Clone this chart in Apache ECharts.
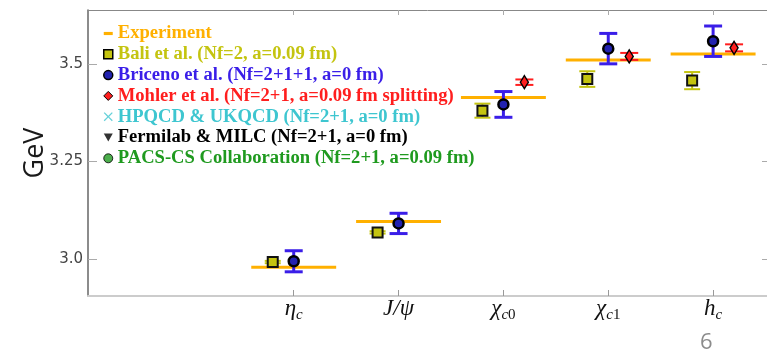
<!DOCTYPE html>
<html>
<head>
<meta charset="utf-8">
<script src="https://cdn.jsdelivr.net/npm/echarts@6/dist/echarts.min.js"></script>
<style>
  html, body { margin: 0; padding: 0; background: #fff; }
  #chart { width: 767px; height: 350px; }
</style>
</head>
<body>
<div id="chart"></div>
<script>
// Charmonium spectrum: experiment vs. lattice QCD results (GeV)
const categories = ['ηc', 'J/ψ', 'χc0', 'χc1', 'hc'];
const catSymbol = ['η', 'J/ψ', 'χ', 'χ', 'h'];
const catSubLetter = ['c', '', 'c', 'c', 'c'];
const catSubDigit = ['', '', '0', '1', ''];
const catPos = [1, 2, 3, 4, 5];

const experiment = [2.979, 3.096, 3.414, 3.510, 3.525];

const baliMass = [2.992, 3.068, 3.380, 3.461, 3.457];
const baliErr = [0.003, 0.003, 0.018, 0.020, 0.022];

const bricenoMass = [2.994, 3.091, 3.396, 3.539, 3.558];
const bricenoErr = [0.027, 0.026, 0.033, 0.039, 0.039];

const mohlerMass = [null, null, 3.453, 3.519, 3.541];
const mohlerErr = [null, null, 0.007, 0.009, 0.009];

const yTicks = [3.0, 3.25, 3.5];
const yTickLabels = ['3.0', '3.25', '3.5'];

const seriesNames = [
  'Experiment',
  'Bali et al. (Nf=2, a=0.09 fm)',
  'Briceno et al. (Nf=2+1+1, a=0 fm)',
  'Mohler et al. (Nf=2+1, a=0.09 fm splitting)',
  'HPQCD & UKQCD (Nf=2+1, a=0 fm)',
  'Fermilab & MILC (Nf=2+1, a=0 fm)',
  'PACS-CS Collaboration (Nf=2+1, a=0.09 fm)'
];

const C = {
  exp: '#ffb000',
  bali: '#c4c410',
  briceno: '#3a1ee8',
  mohler: '#ff1e1e',
  hpqcd: '#3ec6d0',
  fermilab: '#000000',
  pacs: '#1f9a1f'
};

// horizontal offsets of each group within a category slot
const OFF_BALI = -0.2, OFF_BRICENO = 0, OFF_MOHLER = 0.2;
const EXP_HALF = 0.405;

function withOffset(masses, errs, off) {
  const out = [];
  masses.forEach((m, i) => {
    if (m == null) return;
    out.push([catPos[i] + off, m - errs[i], m + errs[i]]);
  });
  return out;
}
function points(masses, off) {
  const out = [];
  masses.forEach((m, i) => { if (m != null) out.push([catPos[i] + off, m]); });
  return out;
}

function errorBarSeries(name, data, color, lineWidth, capW) {
  return {
    name, type: 'custom', z: 3,
    itemStyle: { color },
    encode: { x: 0, y: [1, 2] },
    data,
    renderItem(params, api) {
      const x = api.value(0);
      const lo = api.coord([x, api.value(1)]);
      const hi = api.coord([x, api.value(2)]);
      const h = capW / 2;
      const st = { stroke: color, lineWidth };
      return {
        type: 'group',
        children: [
          { type: 'line', shape: { x1: hi[0], y1: hi[1], x2: lo[0], y2: lo[1] }, style: st },
          { type: 'line', shape: { x1: hi[0] - h, y1: hi[1], x2: hi[0] + h, y2: hi[1] }, style: st },
          { type: 'line', shape: { x1: lo[0] - h, y1: lo[1], x2: lo[0] + h, y2: lo[1] }, style: st }
        ]
      };
    }
  };
}

function subLabel(i) {
  let s = '{m|' + catSymbol[i] + '}';
  if (catSubLetter[i]) s += '{s|' + catSubLetter[i] + '}';
  if (catSubDigit[i]) s += '{d|' + catSubDigit[i] + '}';
  return s;
}

const legendFont = { fontFamily: 'Liberation Serif', fontWeight: 'bold', fontSize: 18.6, lineHeight: 18 };

const chart = echarts.init(document.getElementById('chart'), null, { renderer: 'canvas' });
chart.setOption({
  animation: false,
  backgroundColor: '#ffffff',
  grid: { left: 88, right: -1, top: 10, bottom: 54 },
  legend: {
    orient: 'vertical', left: 98, top: 19,
    itemWidth: 9, itemHeight: 9, itemGap: 1.8,
    selectedMode: false,
    textStyle: legendFont,
    data: [
      { name: seriesNames[0], icon: 'path://M0,0h10v3.5h-10z', itemStyle: { color: C.exp, borderWidth: 0 }, textStyle: { color: C.exp } },
      { name: seriesNames[1], icon: 'rect', itemStyle: { color: C.bali, borderColor: '#000', borderWidth: 1.5 }, textStyle: { color: C.bali } },
      { name: seriesNames[2], icon: 'circle', itemStyle: { color: '#2222b0', borderColor: '#000', borderWidth: 1.5 }, textStyle: { color: C.briceno } },
      { name: seriesNames[3], icon: 'diamond', itemStyle: { color: C.mohler, borderColor: '#000', borderWidth: 1 }, textStyle: { color: C.mohler } },
      { name: seriesNames[4], icon: 'path://M1,0L5,4L9,0L10,1L6,5L10,9L9,10L5,6L1,10L0,9L4,5L0,1Z', itemStyle: { color: C.hpqcd, borderWidth: 0 }, textStyle: { color: C.hpqcd } },
      { name: seriesNames[5], icon: 'path://M0,0L10,0L5,9Z', itemStyle: { color: C.fermilab, borderWidth: 0 }, textStyle: { color: C.fermilab } },
      { name: seriesNames[6], icon: 'circle', itemStyle: { color: C.pacs, borderColor: '#000', borderWidth: 1 }, textStyle: { color: C.pacs } }
    ]
  },
  xAxis: [
    {
      type: 'value', position: 'bottom', min: -0.962, max: 5.514,
      splitLine: { show: false },
      axisLine: { show: true, onZero: false, lineStyle: { color: '#cccccc', width: 2 } },
      axisTick: { show: true, inside: true, length: 6, customValues: catPos, lineStyle: { color: '#999' } },
      axisLabel: {
        customValues: catPos, margin: -1, color: '#111',
        formatter: v => subLabel(catPos.indexOf(v)),
        rich: {
          m: { fontFamily: 'Liberation Serif', fontStyle: 'italic', fontSize: 23, lineHeight: 28, color: '#111' },
          s: { fontFamily: 'Liberation Serif', fontStyle: 'italic', fontSize: 15, verticalAlign: 'bottom', color: '#111' },
          d: { fontFamily: 'Liberation Serif', fontSize: 15, verticalAlign: 'bottom', color: '#111' }
        }
      }
    },
    {
      type: 'value', position: 'top', min: -0.962, max: 5.514,
      splitLine: { show: false },
      axisLine: { show: true, onZero: false, lineStyle: { color: '#888', width: 1 } },
      axisTick: { show: true, inside: true, length: 5, customValues: catPos, lineStyle: { color: '#aaa' } },
      axisLabel: { show: false }
    }
  ],
  yAxis: [
    {
      type: 'value', position: 'left', min: 2.905, max: 3.638,
      name: 'GeV', nameLocation: 'middle', nameRotate: 90, nameGap: 39, nameMoveOverlap: false,
      nameTextStyle: { fontFamily: 'Open Sans', fontSize: 27, color: '#1a1a1a' },
      splitLine: { show: false },
      axisLine: { show: true, onZero: false, lineStyle: { color: '#666', width: 1.5 } },
      axisTick: { show: true, inside: true, length: 9, customValues: yTicks, lineStyle: { color: '#aaa' } },
      axisLabel: {
        customValues: yTicks, margin: 5, color: '#444',
        fontFamily: 'DejaVu Sans', fontSize: 15,
        formatter: v => yTickLabels[yTicks.indexOf(v)]
      }
    },
    {
      type: 'value', position: 'right', min: 2.905, max: 3.638,
      splitLine: { show: false },
      axisLine: { show: true, onZero: false, lineStyle: { color: '#888', width: 1 } },
      axisTick: { show: true, inside: true, length: 5, customValues: yTicks, lineStyle: { color: '#aaa' } },
      axisLabel: { show: false }
    }
  ],
  graphic: [
    { type: 'text', left: 700, top: 332, style: { text: '6', fontFamily: 'Open Sans', fontSize: 22, fill: '#8c8c8c' } }
  ],
  series: [
    {
      name: seriesNames[0], type: 'custom', z: 2,
      itemStyle: { color: C.exp },
      encode: { x: 0, y: 1 },
      data: experiment.map((m, i) => [catPos[i], m]),
      renderItem(params, api) {
        const x = api.value(0), y = api.value(1);
        const a = api.coord([x - EXP_HALF, y]);
        const b = api.coord([x + EXP_HALF, y]);
        return { type: 'line', shape: { x1: a[0], y1: a[1], x2: b[0], y2: b[1] }, style: { stroke: C.exp, lineWidth: 3 } };
      }
    },
    errorBarSeries(seriesNames[1], withOffset(baliMass, baliErr, OFF_BALI), C.bali, 2, 16),
    errorBarSeries(seriesNames[2], withOffset(bricenoMass, bricenoErr, OFF_BRICENO), C.briceno, 3, 18),
    errorBarSeries(seriesNames[3], withOffset(mohlerMass, mohlerErr, OFF_MOHLER), C.mohler, 2, 18),
    {
      name: seriesNames[1], type: 'scatter', z: 4, symbol: 'rect', symbolSize: 10,
      itemStyle: { color: C.bali, borderColor: '#111', borderWidth: 2, opacity: 1 },
      data: points(baliMass, OFF_BALI)
    },
    {
      name: seriesNames[2], type: 'scatter', z: 4, symbol: 'circle', symbolSize: 10,
      itemStyle: { color: '#2222b0', borderColor: '#000', borderWidth: 2.5, opacity: 1 },
      data: points(bricenoMass, OFF_BRICENO)
    },
    {
      name: seriesNames[3], type: 'scatter', z: 4, symbol: 'diamond', symbolSize: [8, 13],
      itemStyle: { color: C.mohler, borderColor: '#000', borderWidth: 1.5, opacity: 1 },
      data: points(mohlerMass, OFF_MOHLER)
    },
    { name: seriesNames[4], type: 'scatter', data: [] },
    { name: seriesNames[5], type: 'scatter', data: [] },
    { name: seriesNames[6], type: 'scatter', data: [] }
  ]
});
</script>
</body>
</html>
